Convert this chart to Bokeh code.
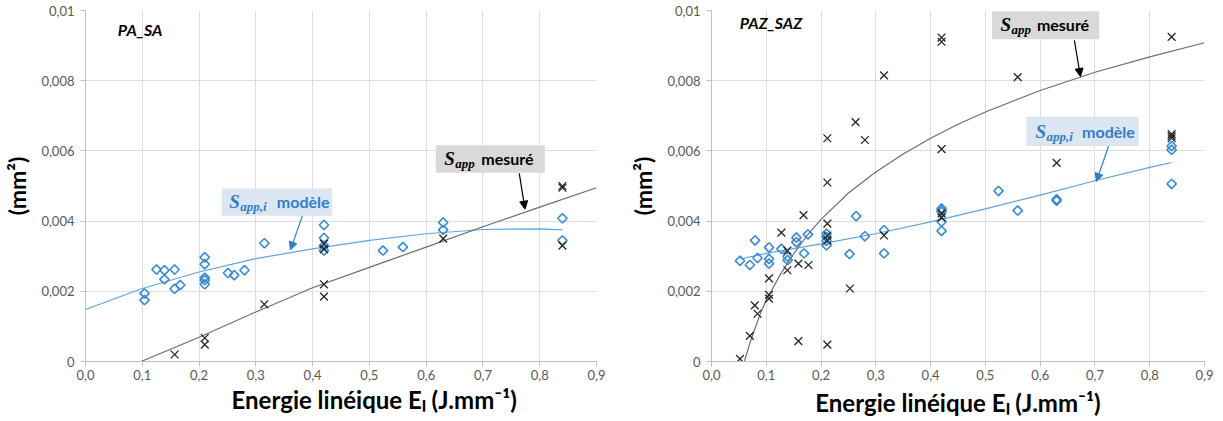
import numpy as np
from bokeh.plotting import figure
from bokeh.layouts import row
from bokeh.models import (Range1d, FixedTicker, CustomJSTickFormatter, Label, Title,
                          BoxAnnotation, Arrow, NormalHead)
from bokeh.embed import file_html
from bokeh.resources import INLINE

# ---------------- data ----------------
x_ticks = [0.0, 0.1, 0.2, 0.3, 0.4, 0.5, 0.6, 0.7, 0.8, 0.9]
x_tick_labels = ["0,0", "0,1", "0,2", "0,3", "0,4", "0,5", "0,6", "0,7", "0,8", "0,9"]
y_ticks = [0.0, 0.002, 0.004, 0.006, 0.008, 0.01]
y_tick_labels = ["0", "0,002", "0,004", "0,006", "0,008", "0,01"]
x_title = "Energie linéique Eₗ (J.mm⁻¹)"
y_title = "(mm²)"

# PA_SA : S_app,i model (diamonds)
pa_model_x = [0.104, 0.104, 0.125, 0.139, 0.139, 0.157, 0.157, 0.167, 0.21, 0.21, 0.21, 0.21, 0.21,
              0.251, 0.262, 0.28, 0.315, 0.42, 0.42, 0.42, 0.42, 0.524, 0.559, 0.63, 0.63, 0.84, 0.84]
pa_model_y = [0.00194, 0.00175, 0.00262, 0.0026, 0.00234, 0.00262, 0.00207, 0.00218, 0.00297, 0.00277,
              0.00239, 0.00232, 0.0022, 0.00252, 0.00246, 0.0026, 0.00337, 0.00389, 0.00352, 0.0033,
              0.00316, 0.00316, 0.00326, 0.00396, 0.00375, 0.00408, 0.00345]
# PA_SA : S_app measured (crosses)
pa_meas_x = [0.157, 0.21, 0.21, 0.315, 0.42, 0.42, 0.42, 0.42, 0.63, 0.84, 0.84, 0.84]
pa_meas_y = [0.0002, 0.00067, 0.00048, 0.00163, 0.00335, 0.0032, 0.0022, 0.00185, 0.0035, 0.005,
             0.00495, 0.0033]
# PA_SA trend curves
pa_model_trend_x = [0.0, 0.1, 0.2, 0.3, 0.4, 0.5, 0.6, 0.7, 0.8, 0.84]
pa_model_trend_y = [0.00148, 0.00208, 0.00255, 0.00293, 0.00321, 0.00345, 0.00364, 0.00376, 0.00378, 0.00375]
pa_meas_trend_x = [0.098, 0.2, 0.3, 0.4, 0.5, 0.6, 0.7, 0.8, 0.9]
pa_meas_trend_y = [0.0, 0.00069, 0.00141, 0.0021, 0.00268, 0.00326, 0.00384, 0.0044, 0.00495]

# PAZ_SAZ : S_app,i model (diamonds)
paz_model_x = [0.052, 0.070, 0.0795, 0.084, 0.105, 0.105, 0.105, 0.1276, 0.1386, 0.139, 0.155, 0.155,
               0.169, 0.176, 0.21, 0.21, 0.21, 0.21, 0.252, 0.264, 0.28, 0.315, 0.315,
               0.42, 0.42, 0.42, 0.42, 0.42, 0.524, 0.559, 0.63, 0.63, 0.84, 0.84, 0.84]
paz_model_y = [0.00287, 0.00275, 0.00345, 0.00295, 0.00325, 0.00292, 0.00279, 0.00321, 0.00299, 0.00289,
               0.00353, 0.0034, 0.00308, 0.00362, 0.00364, 0.00355, 0.00344, 0.00331, 0.00306, 0.00414,
               0.00357, 0.00374, 0.00308, 0.00436, 0.00431, 0.00426, 0.00398, 0.00372, 0.00486, 0.0043,
               0.00462, 0.00458, 0.00614, 0.00603, 0.00506]
# PAZ_SAZ : S_app measured (crosses)
paz_meas_x = [0.052, 0.070, 0.079, 0.084, 0.105, 0.105, 0.105, 0.1276, 0.1385, 0.1385, 0.1586, 0.1586,
              0.168, 0.177, 0.2115, 0.2115, 0.2115, 0.2115, 0.2115, 0.2115, 0.2527, 0.263, 0.28, 0.315,
              0.315, 0.42, 0.42, 0.42, 0.42, 0.42, 0.559, 0.63, 0.84, 0.84, 0.84, 0.84]
paz_meas_y = [0.000075, 0.00073, 0.0016, 0.00136, 0.00237, 0.0019, 0.00179, 0.00367, 0.00316, 0.0026,
              0.00058, 0.00279, 0.00417, 0.00275, 0.0051, 0.00636, 0.00393, 0.00359, 0.00345, 0.00048,
              0.00208, 0.00682, 0.00631, 0.00815, 0.00359, 0.00923, 0.00911, 0.00605, 0.00422, 0.0041,
              0.0081, 0.00566, 0.00925, 0.00648, 0.00642, 0.00636]
# PAZ_SAZ trend curves
paz_model_trend_x = [0.052, 0.1, 0.2, 0.3, 0.4, 0.5, 0.6, 0.7, 0.8, 0.84]
paz_model_trend_y = [0.00292, 0.00308, 0.00335, 0.00364, 0.00398, 0.00435, 0.00474, 0.00515, 0.00553, 0.00567]
paz_meas_trend_x = [0.06, 0.07, 0.08, 0.09, 0.1, 0.125, 0.15, 0.175, 0.2, 0.25, 0.3, 0.35, 0.4, 0.45,
                    0.5, 0.6, 0.7, 0.8, 0.9]
paz_meas_trend_y = [0.0, 0.00052, 0.00097, 0.0014, 0.00175, 0.00246, 0.00307, 0.0036, 0.00405, 0.0048,
                    0.0054, 0.00591, 0.00636, 0.00676, 0.00711, 0.00772, 0.00824, 0.00868, 0.00908]

# ---------------- styles ----------------
BLUE = "#3a8ad4"
BLUE_LINE = "#5ea5e0"
BLACK = "#262626"
GRAY_LINE = "#6e6e6e"
GRID = "#dedede"
AXIS = "#bfbfbf"
TICK_TXT = "#595959"
FONT = "Lato"
SERIF = "Liberation Serif"

x_fmt = CustomJSTickFormatter(args=dict(labels=x_tick_labels),
                              code="return labels[Math.round(tick*10)];")
y_fmt = CustomJSTickFormatter(args=dict(labels=y_tick_labels),
                              code="return labels[Math.round(tick*500)];")


def make_fig(width, b_left, b_right, b_top, b_bottom, title, title_pos,
             mx, my, cx, cy, mtx, mty, ctx_, cty, x_label_offset=None):
    p = figure(width=width, height=420, output_backend="svg", toolbar_location=None,
               x_range=Range1d(0, 0.9), y_range=Range1d(0, 0.01),
               min_border_left=b_left, min_border_right=b_right,
               min_border_top=b_top, min_border_bottom=b_bottom)
    p.outline_line_color = None
    p.background_fill_color = "white"
    p.border_fill_color = "white"
    for ax in (p.xaxis[0], p.yaxis[0]):
        ax.axis_line_color = AXIS
        ax.major_tick_line_color = AXIS
        ax.major_tick_in = 0
        ax.major_tick_out = 5
        ax.minor_tick_line_color = None
        ax.major_label_text_font = FONT
        ax.major_label_text_font_size = "13px"
        ax.major_label_text_color = TICK_TXT
        ax.axis_label_text_font = FONT
        ax.axis_label_text_font_style = "bold"
        ax.axis_label_text_color = "black"
    p.xaxis.ticker = FixedTicker(ticks=x_ticks)
    p.yaxis.ticker = FixedTicker(ticks=y_ticks)
    p.xgrid.ticker = FixedTicker(ticks=x_ticks)
    p.ygrid.ticker = FixedTicker(ticks=y_ticks)
    p.xaxis.formatter = x_fmt
    p.yaxis.formatter = y_fmt
    p.xaxis.major_label_standoff = 3
    p.yaxis.major_label_standoff = 6
    if x_label_offset is None:
        p.xaxis.axis_label = x_title
        p.xaxis.axis_label_text_font_size = "24px"
        p.xaxis.axis_label_standoff = 5
    else:
        # Excel placed this title a little right of the plot-area centre
        p.add_layout(Title(text=x_title, align="left", offset=x_label_offset,
                           text_font=FONT, text_font_style="bold", text_font_size="24px",
                           text_color="black", standoff=0), "below")
    p.yaxis.axis_label = y_title
    p.yaxis.axis_label_text_font_size = "23px"
    p.yaxis.axis_label_standoff = 7
    p.xgrid.grid_line_color = GRID
    p.ygrid.grid_line_color = GRID

    # trend curves
    p.line(mtx, mty, line_color=BLUE_LINE, line_width=1.2)
    p.line(ctx_, cty, line_color=GRAY_LINE, line_width=1.2)
    # points
    p.scatter(mx, my, marker="square", angle=np.pi / 4, size=6.6, fill_color=None,
              line_color=BLUE, line_width=1.6)
    p.scatter(cx, cy, marker="x", size=11, line_color=BLACK, line_width=1.3)

    p.add_layout(Label(x=title_pos[0], y=title_pos[1], text=title, text_font=FONT,
                       text_font_style="bold italic", text_font_size="16px",
                       text_baseline="middle", text_color="black"))
    return p


def callout(p, box, s_pos, sub, word_pos, arrow, fill, txt_color, head_color):
    l, r, b, t = box
    p.add_layout(BoxAnnotation(left=l, right=r, bottom=b, top=t, fill_color=fill,
                               fill_alpha=1.0, line_color=None, level="overlay"))
    p.add_layout(Label(x=s_pos[0], y=s_pos[1], text="S", text_font=SERIF,
                       text_font_style="bold italic", text_font_size="19px",
                       text_baseline="middle", text_color=txt_color, level="overlay"))
    p.add_layout(Label(x=s_pos[0], y=s_pos[1], x_offset=11, y_offset=-5, text=sub,
                       text_font=SERIF, text_font_style="bold italic", text_font_size="13px",
                       text_baseline="middle", text_color=txt_color, level="overlay"))
    p.add_layout(Label(x=word_pos[0], y=word_pos[1], text=word_pos[2], text_font=FONT,
                       text_font_style="bold", text_font_size="16px",
                       text_baseline="middle", text_color=txt_color, level="overlay"))
    x0, y0, x1, y1 = arrow
    p.add_layout(Arrow(end=NormalHead(size=8, fill_color=head_color, line_color=head_color),
                       x_start=x0, y_start=y0, x_end=x1, y_end=y1,
                       line_color=head_color, line_width=1.2))


p1 = make_fig(606, 84, 10, 10, 59, "PA_SA", (0.057, 0.00947),
              pa_model_x, pa_model_y, pa_meas_x, pa_meas_y,
              pa_model_trend_x, pa_model_trend_y, pa_meas_trend_x, pa_meas_trend_y,
              x_label_offset=146)
callout(p1, (0.240, 0.434, 0.00415, 0.00493), (0.253, 0.00456), "app,i",
        (0.337, 0.00456, "modèle"), (0.382, 0.00415, 0.361, 0.00318),
        "#dce6f2", "#2f7fc8", "#2f7fc8")
callout(p1, (0.617, 0.809, 0.00538, 0.00616), (0.632, 0.00579), "app",
        (0.697, 0.00579, "mesuré"), (0.764, 0.00536, 0.774, 0.00434),
        "#d9d9d9", "black", "black")

p2 = make_fig(608, 105, 10, 10, 59, "PAZ_SAZ", (0.0516, 0.00966),
              paz_model_x, paz_model_y, paz_meas_x, paz_meas_y,
              paz_model_trend_x, paz_model_trend_y, paz_meas_trend_x, paz_meas_trend_y)
callout(p2, (0.512, 0.708, 0.00918, 0.00998), (0.5275, 0.00959), "app",
        (0.594, 0.00959, "mesuré"), (0.6625, 0.00915, 0.6735, 0.00812),
        "#d9d9d9", "black", "black")
callout(p2, (0.575, 0.780, 0.00614, 0.00697), (0.5914, 0.00655), "app,i",
        (0.6765, 0.00655, "modèle"), (0.725, 0.00614, 0.7026, 0.00513),
        "#dce6f2", "#2f7fc8", "#2f7fc8")

layout = row(p1, p2, spacing=0)
open("out.html", "w").write(file_html(layout, INLINE))
